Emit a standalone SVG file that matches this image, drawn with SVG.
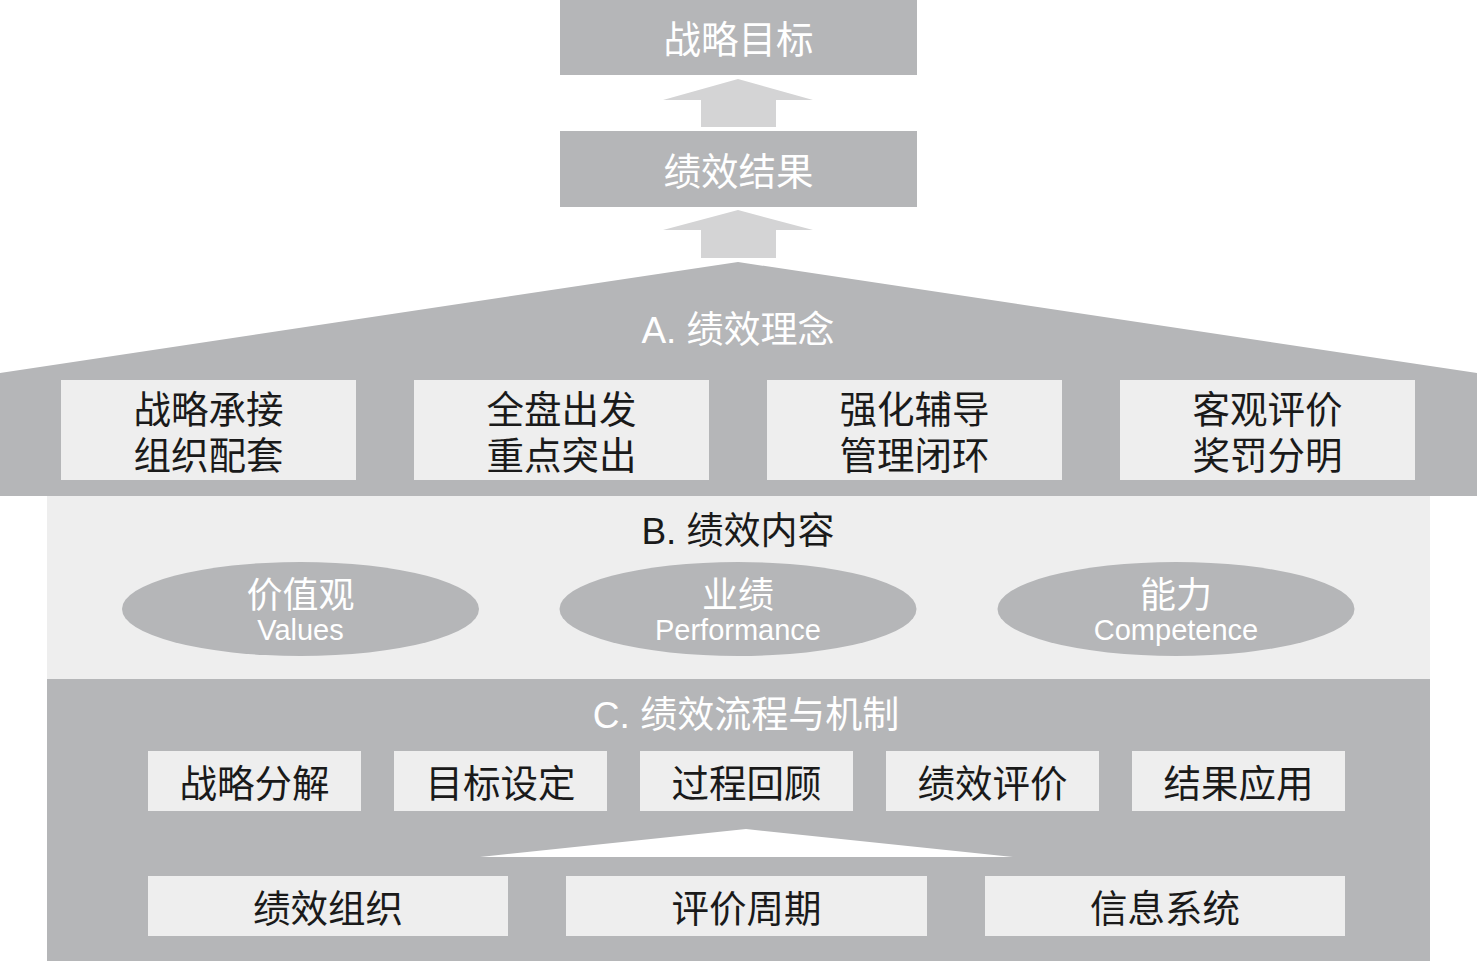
<svg xmlns="http://www.w3.org/2000/svg" width="1477" height="961" viewBox="0 0 1477 961">
<style>
.dk{fill:#b5b6b8}
.lt{fill:#eeeeee}
.ar{fill:#d4d4d5}
.wt{font-family:"Liberation Sans","Noto Sans CJK SC",sans-serif;fill:#ffffff;text-anchor:middle}
.bk{font-family:"Liberation Sans","Noto Sans CJK SC",sans-serif;fill:#1a1a1a;text-anchor:middle}
.bx{font-family:"Liberation Serif","Noto Sans CJK SC",serif;fill:#1a1a1a;text-anchor:middle;font-size:37.5px}
.lb{font-size:37px}
</style>
<rect width="1477" height="961" fill="#ffffff"/>
<g id="goal">
<rect class="dk" x="560" y="0" width="357" height="75"/>
<text class="wt" x="738.5" y="53" font-size="37.5">战略目标</text>
</g>
<g id="result">
<rect class="dk" x="560" y="131" width="357" height="76"/>
<text class="wt" x="738.5" y="185" font-size="37.5">绩效结果</text>
</g>
<g id="connectors">
<polygon class="ar" points="738,79 813,100 776,100 776,127 701,127 701,100 663,100"/>
<polygon class="ar" points="738,210 813,230 776,230 776,258 701,258 701,230 663,230"/>
</g>
<g id="sectionB">
<rect class="lt" x="47" y="496" width="1383" height="183"/>
<text class="bk lb" x="738" y="544">B. 绩效内容</text>
</g>
<g id="sectionA">
<polygon class="dk" points="0,373 738,262 1477,373 1477,496 0,496"/>
<text class="wt lb" x="738" y="343">A. 绩效理念</text>
</g>
<g id="a1"><rect class="lt" x="61" y="380" width="295" height="100"/><text class="bx" x="208.5" y="423">战略承接</text><text class="bx" x="208.5" y="469">组织配套</text></g>
<g id="a2"><rect class="lt" x="414" y="380" width="295" height="100"/><text class="bx" x="561.5" y="423">全盘出发</text><text class="bx" x="561.5" y="469">重点突出</text></g>
<g id="a3"><rect class="lt" x="767" y="380" width="295" height="100"/><text class="bx" x="914.5" y="423">强化辅导</text><text class="bx" x="914.5" y="469">管理闭环</text></g>
<g id="a4"><rect class="lt" x="1120" y="380" width="295" height="100"/><text class="bx" x="1267.5" y="423">客观评价</text><text class="bx" x="1267.5" y="469">奖罚分明</text></g>
<g id="b1"><ellipse class="dk" cx="300.5" cy="609" rx="178.5" ry="47"/><text class="wt" x="300.5" y="608" font-size="36">价值观</text><text class="wt" x="300.5" y="640" font-size="29">Values</text></g>
<g id="b2"><ellipse class="dk" cx="738" cy="609" rx="178.5" ry="47"/><text class="wt" x="738" y="608" font-size="36">业绩</text><text class="wt" x="738" y="640" font-size="29">Performance</text></g>
<g id="b3"><ellipse class="dk" cx="1176" cy="609" rx="178.5" ry="47"/><text class="wt" x="1176" y="608" font-size="36">能力</text><text class="wt" x="1176" y="640" font-size="29">Competence</text></g>
<g id="sectionC">
<rect class="dk" x="47" y="679" width="1383" height="282"/>
<text class="wt lb" x="746" y="728">C. 绩效流程与机制</text>
<polygon fill="#ffffff" points="746,829 1013,857 480,857"/>
</g>
<g id="c1"><rect class="lt" x="148" y="751" width="213" height="60"/><text class="bx" x="254.5" y="797">战略分解</text></g>
<g id="c2"><rect class="lt" x="394" y="751" width="213" height="60"/><text class="bx" x="500.5" y="797">目标设定</text></g>
<g id="c3"><rect class="lt" x="640" y="751" width="213" height="60"/><text class="bx" x="746.5" y="797">过程回顾</text></g>
<g id="c4"><rect class="lt" x="886" y="751" width="213" height="60"/><text class="bx" x="992.5" y="797">绩效评价</text></g>
<g id="c5"><rect class="lt" x="1132" y="751" width="213" height="60"/><text class="bx" x="1238.5" y="797">结果应用</text></g>
<g id="d1"><rect class="lt" x="148" y="876" width="360" height="60"/><text class="bx" x="328" y="922">绩效组织</text></g>
<g id="d2"><rect class="lt" x="566" y="876" width="361" height="60"/><text class="bx" x="746.5" y="922">评价周期</text></g>
<g id="d3"><rect class="lt" x="985" y="876" width="360" height="60"/><text class="bx" x="1165" y="922">信息系统</text></g>
</svg>
